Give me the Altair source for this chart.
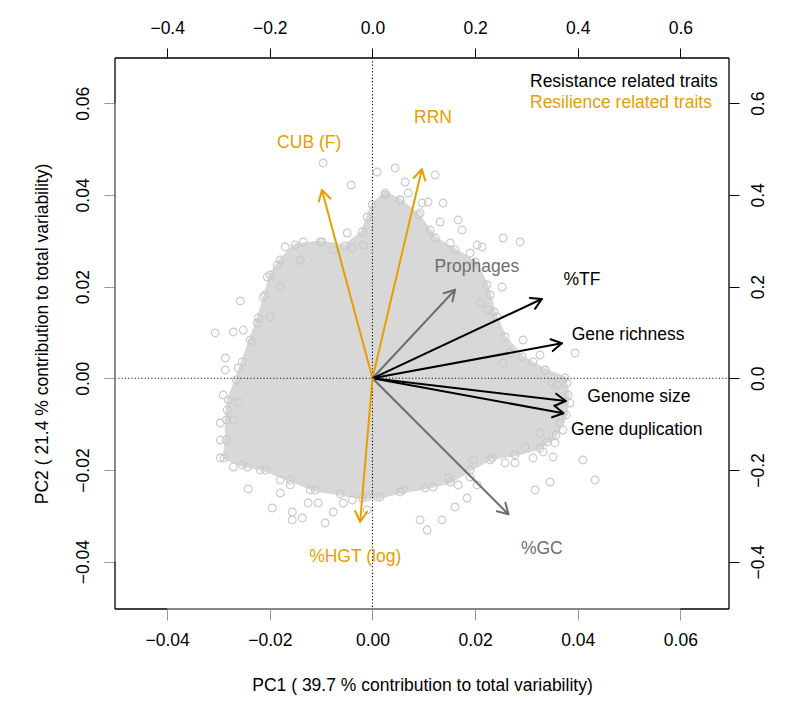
import math
import altair as alt
import pandas as pd

# ---- genome scores on PC1 / PC2 (lower and left axes) ----
# outline of the dense body of the score cloud
core_pc1 = [-0.00532, -0.00201, -0.00006, 0.00247, 0.00539, 0.0089, 0.01221, 0.0161, 0.02,
            0.02233, 0.0237, 0.02584, 0.02915, 0.03363, 0.03752, 0.0381, 0.03771, 0.03577,
            0.03265, 0.02778, 0.02331, 0.01902, 0.01513, 0.01026, 0.00539, 0.0015, -0.00201,
            -0.00629, -0.01116, -0.01602, -0.02089, -0.02537, -0.02887, -0.02848, -0.02848,
            -0.0281, -0.02654, -0.02537, -0.02381, -0.02225, -0.02089, -0.01992, -0.01797,
            -0.01505, -0.01018]
core_pc2 = [0.02886, 0.03191, 0.0378, 0.04041, 0.03889, 0.03562, 0.0306, 0.02798, 0.02537,
            0.02035, 0.01446, 0.00901, 0.00465, 0.00181, 0.00007, -0.00364, -0.008, -0.01237,
            -0.0152, -0.01673, -0.01738, -0.02, -0.02262, -0.02393, -0.0248, -0.02589, -0.02611,
            -0.02523, -0.02436, -0.02218, -0.02, -0.01891, -0.01738, -0.01346, -0.00909,
            -0.00473, -0.00037, 0.00356, 0.00835, 0.01315, 0.01817, 0.02253, 0.0258,
            0.02907, 0.02973]

# individual genomes on and beyond the edge of the cloud
score_pc1 = [-0.0096, -0.00415, 0.00092, 0.00442, 0.00637, 0.01221, 0.00695, 0.00247, 0.00968,
             0.01084, 0.01377, 0.01318, 0.01669, 0.01746, 0.01123, 0.02038, 0.02136, 0.02545,
             0.02876, -0.00103, -0.00493, -0.017, -0.01349, -0.00979, -0.00395, -0.01855,
             -0.0205, -0.02576, -0.02128, -0.02245, -0.03063, -0.02712, -0.02517, -0.02868,
             -0.02868, -0.02615, -0.02342, -0.01992, -0.01797, -0.01408, -0.00765, -0.00181,
             -0.02907, -0.02829, -0.02615, -0.02965, -0.02965, -0.02965, -0.02712, -0.02712,
             -0.0244, -0.02186, -0.0242, -0.01953, -0.01797, -0.01602, -0.01563, -0.01563,
             -0.01369, -0.01252, -0.01057, -0.00921, -0.00765, -0.0057, -0.00395, -0.00103,
             -0.00103, 0.00092, -0.01213, -0.01797, 0.00929, 0.01065, 0.01357, 0.0161,
             0.01844, 0.01182, 0.01474, 0.01669, 0.01902, 0.02038, 0.02584, 0.02778, 0.03168,
             0.0346, 0.04102, 0.04336, 0.03129, 0.03324, 0.03518, 0.02973, 0.03401, 0.03557,
             0.03713, 0.03654, 0.03849, 0.03791, 0.03499, 0.03265, 0.02292, 0.01961, 0.00598,
             0.03947, 0.02934, 0.03265, 0.03129, 0.03596, 0.02525, 0.02292, 0.02097, 0.02253,
             0.02428, 0.02681, 0.02545, 0.03362, 0.01902, 0.01513, 0.00929, 0.00539]
score_pc2 = [0.04696, 0.04216, 0.04499, 0.04587, 0.04281, 0.04434, 0.04041, 0.03998, 0.03823,
             0.03845, 0.03823, 0.03409, 0.03453, 0.03234, 0.03234, 0.02907, 0.02864, 0.0306,
             0.02973, 0.03518, 0.03169, 0.02864, 0.02973, 0.02973, 0.02842, 0.02471,
             0.02209, 0.01686, 0.01773, 0.01206, 0.00988, 0.0101, 0.01053, 0.00443,
             0.00181, 0.00225, 0.00792, 0.01337, 0.01991, 0.0258, 0.02798, 0.02907,
             -0.00364, -0.00691, -0.00517, -0.00975, -0.01346, -0.01738, -0.00909, -0.01935,
             -0.01935, -0.02, -0.02414, -0.02829, -0.02502, -0.02327, -0.0309, -0.02916,
             -0.03047, -0.0272, -0.0272, -0.03156, -0.02916, -0.0272, -0.02654, -0.02589,
             -0.02872, -0.02589, -0.02436, -0.02218, -0.0309, -0.03309, -0.0309, -0.02807,
             -0.02611, -0.02371, -0.02174, -0.02327, -0.02153, -0.02327, -0.01847, -0.01847,
             -0.02436, -0.02262, -0.01782, -0.02218, -0.01738, -0.01607, -0.01716, -0.01498,
             -0.01389, -0.01411, -0.01128, -0.00975, -0.00539, -0.00103, -0.00103, -0.01193,
             -0.01782, -0.01782, -0.02436, 0.00552, 0.00835, 0.00508, 0.00356, -0.00146,
             0.01991, 0.01817, 0.01642, 0.0149, 0.01337, 0.00552, 0.00334, 0.00181, 0.02733,
             0.02951, 0.03605, 0.03889]

# ---- trait loadings (upper and right axes) ----
traits = ["CUB (F)", "RRN", "Prophages", "%TF", "Gene richness", "Genome size",
          "Gene duplication", "%GC", "%HGT (log)"]
load_pc1 = [-0.0985, 0.0962, 0.161, 0.330, 0.369, 0.3766, 0.372, 0.265, -0.024]
load_pc2 = [0.4107, 0.456, 0.193, 0.173, 0.0763, -0.0495, -0.0763, -0.2966, -0.3128]
label_pc1 = [-0.1233, 0.118, 0.2033, 0.408, 0.498, 0.519, 0.515, 0.33, -0.0337]
label_pc2 = [0.513, 0.568, 0.2434, 0.214, 0.0945, -0.040, -0.1128, -0.373, -0.389]
trait_group = ["Resilience", "Resilience", "Other", "Resistance", "Resistance",
               "Resistance", "Resistance", "Other", "Resilience"]

score_ticks = [-0.04, -0.02, 0.0, 0.02, 0.04, 0.06]
load_ticks = [-0.4, -0.2, 0.0, 0.2, 0.4, 0.6]
legend_lines = ["Resistance related traits", "Resilience related traits"]

ORANGE = "#E69F00"
GROUP_COLORS = alt.Scale(domain=["Resilience", "Resistance", "Other"],
                         range=[ORANGE, "#000000", "#6e6e6e"])
FONT = "Liberation Sans"
W, H = 614, 551
LOAD_X = [-0.5017, 0.6947]
LOAD_Y = [-0.5032, 0.6986]
SCORE_X = [v / 10 for v in LOAD_X]
SCORE_Y = [v / 10 for v in LOAD_Y]

# ---- tables ----
core = pd.DataFrame({"pc1": core_pc1, "pc2": core_pc2, "k": range(len(core_pc1))})
scores = pd.DataFrame({"pc1": score_pc1 + core_pc1, "pc2": score_pc2 + core_pc2})
loads = pd.DataFrame({"trait": traits, "x": load_pc1, "y": load_pc2,
                      "lx": label_pc1, "ly": label_pc2, "group": trait_group})
one_row = pd.DataFrame({"k": [0]})

# open arrow heads, built in pixel space so the barbs keep their angle
kx = W / (LOAD_X[1] - LOAD_X[0])
ky = H / (LOAD_Y[1] - LOAD_Y[0])
barb, spread = 12.0, math.pi / 6
rows = []
for t, x, y, g in zip(traits, load_pc1, load_pc2, trait_group):
    ang = math.atan2(y * ky, x * kx)
    for s in (1, -1):
        a = ang + math.pi + s * spread
        rows.append({"trait": t, "group": g, "x": x, "y": y,
                     "x2": x + barb * math.cos(a) / kx,
                     "y2": y + barb * math.sin(a) / ky})
heads = pd.DataFrame(rows)

# ---- shared axis / scale definitions ----
def sx(field="pc1"):
    ax = alt.Axis(values=score_ticks, format=".2f", orient="bottom", grid=False, domain=False,
                  tickColor="#9a9a9a", tickSize=11, labelFontSize=17.5, labelFont=FONT,
                  labelColor="black", labelPadding=11,
                  title="PC1 ( 39.7 % contribution to total variability)",
                  titleFont=FONT, titleFontSize=17.5, titleFontWeight="normal",
                  titleColor="black", titleY=76, titleBaseline="middle")
    return alt.X(field, type="quantitative", scale=alt.Scale(domain=SCORE_X, nice=False, zero=False), axis=ax)

def sy(field="pc2"):
    ax = alt.Axis(values=score_ticks, format=".2f", orient="left", grid=False, domain=False,
                  tickColor="#9a9a9a", tickSize=11, labelFontSize=17.5, labelFont=FONT,
                  labelColor="black", labelAngle=-90, labelAlign="center",
                  labelBaseline="bottom", labelPadding=12,
                  title="PC2 ( 21.4 % contribution to total variability)",
                  titleFont=FONT, titleFontSize=17.5, titleFontWeight="normal",
                  titleColor="black", titleX=-73, titleBaseline="middle")
    return alt.Y(field, type="quantitative", scale=alt.Scale(domain=SCORE_Y, nice=False, zero=False), axis=ax)

def lx(field="x"):
    ax = alt.Axis(values=load_ticks, format=".1f", orient="top", grid=False, domain=False,
                  tickColor="black", tickSize=10, labelFontSize=17.5, labelFont=FONT,
                  labelColor="black", labelPadding=11, title=None)
    return alt.X(field, type="quantitative", scale=alt.Scale(domain=LOAD_X, nice=False, zero=False), axis=ax)

def ly(field="y"):
    ax = alt.Axis(values=load_ticks, format=".1f", orient="right", grid=False, domain=False,
                  tickColor="black", tickSize=10, labelFontSize=17.5, labelFont=FONT,
                  labelColor="black", labelAngle=-90, labelAlign="center",
                  labelBaseline="top", labelPadding=10, title=None)
    return alt.Y(field, type="quantitative", scale=alt.Scale(domain=LOAD_Y, nice=False, zero=False), axis=ax)

# ---- score layer ----
cloud = alt.Chart(core).mark_line(
    interpolate="linear-closed", fill="#d8d8d8", stroke="#d8d8d8", strokeWidth=3
).encode(x=sx(), y=sy(), order="k:Q")

points = alt.Chart(scores).mark_point(
    shape="circle", filled=False, size=60, stroke="#c9c9c9", strokeWidth=1.1, opacity=1
).encode(x=sx(), y=sy())

dots = dict(color="black", strokeDash=[1.1, 2.2], strokeWidth=1.1)
zero_h = alt.Chart(one_row).mark_rule(**dots).encode(
    y=alt.datum(0), x=alt.value(0), x2=alt.value(W))
zero_v = alt.Chart(one_row).mark_rule(**dots).encode(
    x=alt.datum(0), y=alt.value(0), y2=alt.value(H))

# plot frame, with the score axes' gray lines laid over its lower and left sides
frame = dict(color="black", strokeWidth=1.3)
frame_t = alt.Chart(one_row).mark_rule(**frame).encode(x=alt.value(0), x2=alt.value(W), y=alt.value(0))
frame_b = alt.Chart(one_row).mark_rule(**frame).encode(x=alt.value(0), x2=alt.value(W), y=alt.value(H))
frame_l = alt.Chart(one_row).mark_rule(**frame).encode(y=alt.value(0), y2=alt.value(H), x=alt.value(0))
frame_r = alt.Chart(one_row).mark_rule(**frame).encode(y=alt.value(0), y2=alt.value(H), x=alt.value(W))

axis_b = alt.Chart(one_row).mark_rule(color="#a0a0a0", strokeWidth=1.4).encode(
    x=alt.datum(score_ticks[0]), x2=alt.datum(score_ticks[-1]), y=alt.value(H))
axis_l = alt.Chart(one_row).mark_rule(color="#a0a0a0", strokeWidth=1.4).encode(
    y=alt.datum(score_ticks[0]), y2=alt.datum(score_ticks[-1]), x=alt.value(0))

score_layer = alt.layer(cloud, points, zero_h, zero_v,
                        frame_t, frame_b, frame_l, frame_r, axis_b, axis_l)

# ---- loading layer ----
color = alt.Color("group:N", scale=GROUP_COLORS, legend=None)
shafts = alt.Chart(loads).mark_rule(strokeWidth=2).encode(
    x=lx(), y=ly(), x2=alt.datum(0), y2=alt.datum(0), color=color)
barbs = alt.Chart(heads).mark_rule(strokeWidth=2, strokeCap="round").encode(
    x=lx(), y=ly(), x2="x2:Q", y2="y2:Q", color=color)
names = alt.Chart(loads).mark_text(font=FONT, fontSize=17.5, baseline="middle", align="center").encode(
    x=lx("lx"), y=ly("ly"), text="trait:N", color=color)

legend_text = dict(font=FONT, fontSize=17.5, align="left", baseline="alphabetic")
legend_a = alt.Chart(one_row).mark_text(text=legend_lines[0], color="black", **legend_text).encode(
    x=alt.value(415), y=alt.value(28.5))
legend_b = alt.Chart(one_row).mark_text(text=legend_lines[1], color=ORANGE, **legend_text).encode(
    x=alt.value(415), y=alt.value(49.7))

load_layer = alt.layer(shafts, barbs, names, legend_a, legend_b)

chart = alt.layer(score_layer, load_layer).resolve_scale(
    x="independent", y="independent", color="shared"
).properties(
    width=W, height=H,
    autosize=alt.AutoSizeParams(type="none"),
    padding={"left": 115, "top": 58, "right": 71, "bottom": 103},
).configure_view(strokeWidth=0)

chart.save("out.html", embed_options={"renderer": "svg", "actions": False})
